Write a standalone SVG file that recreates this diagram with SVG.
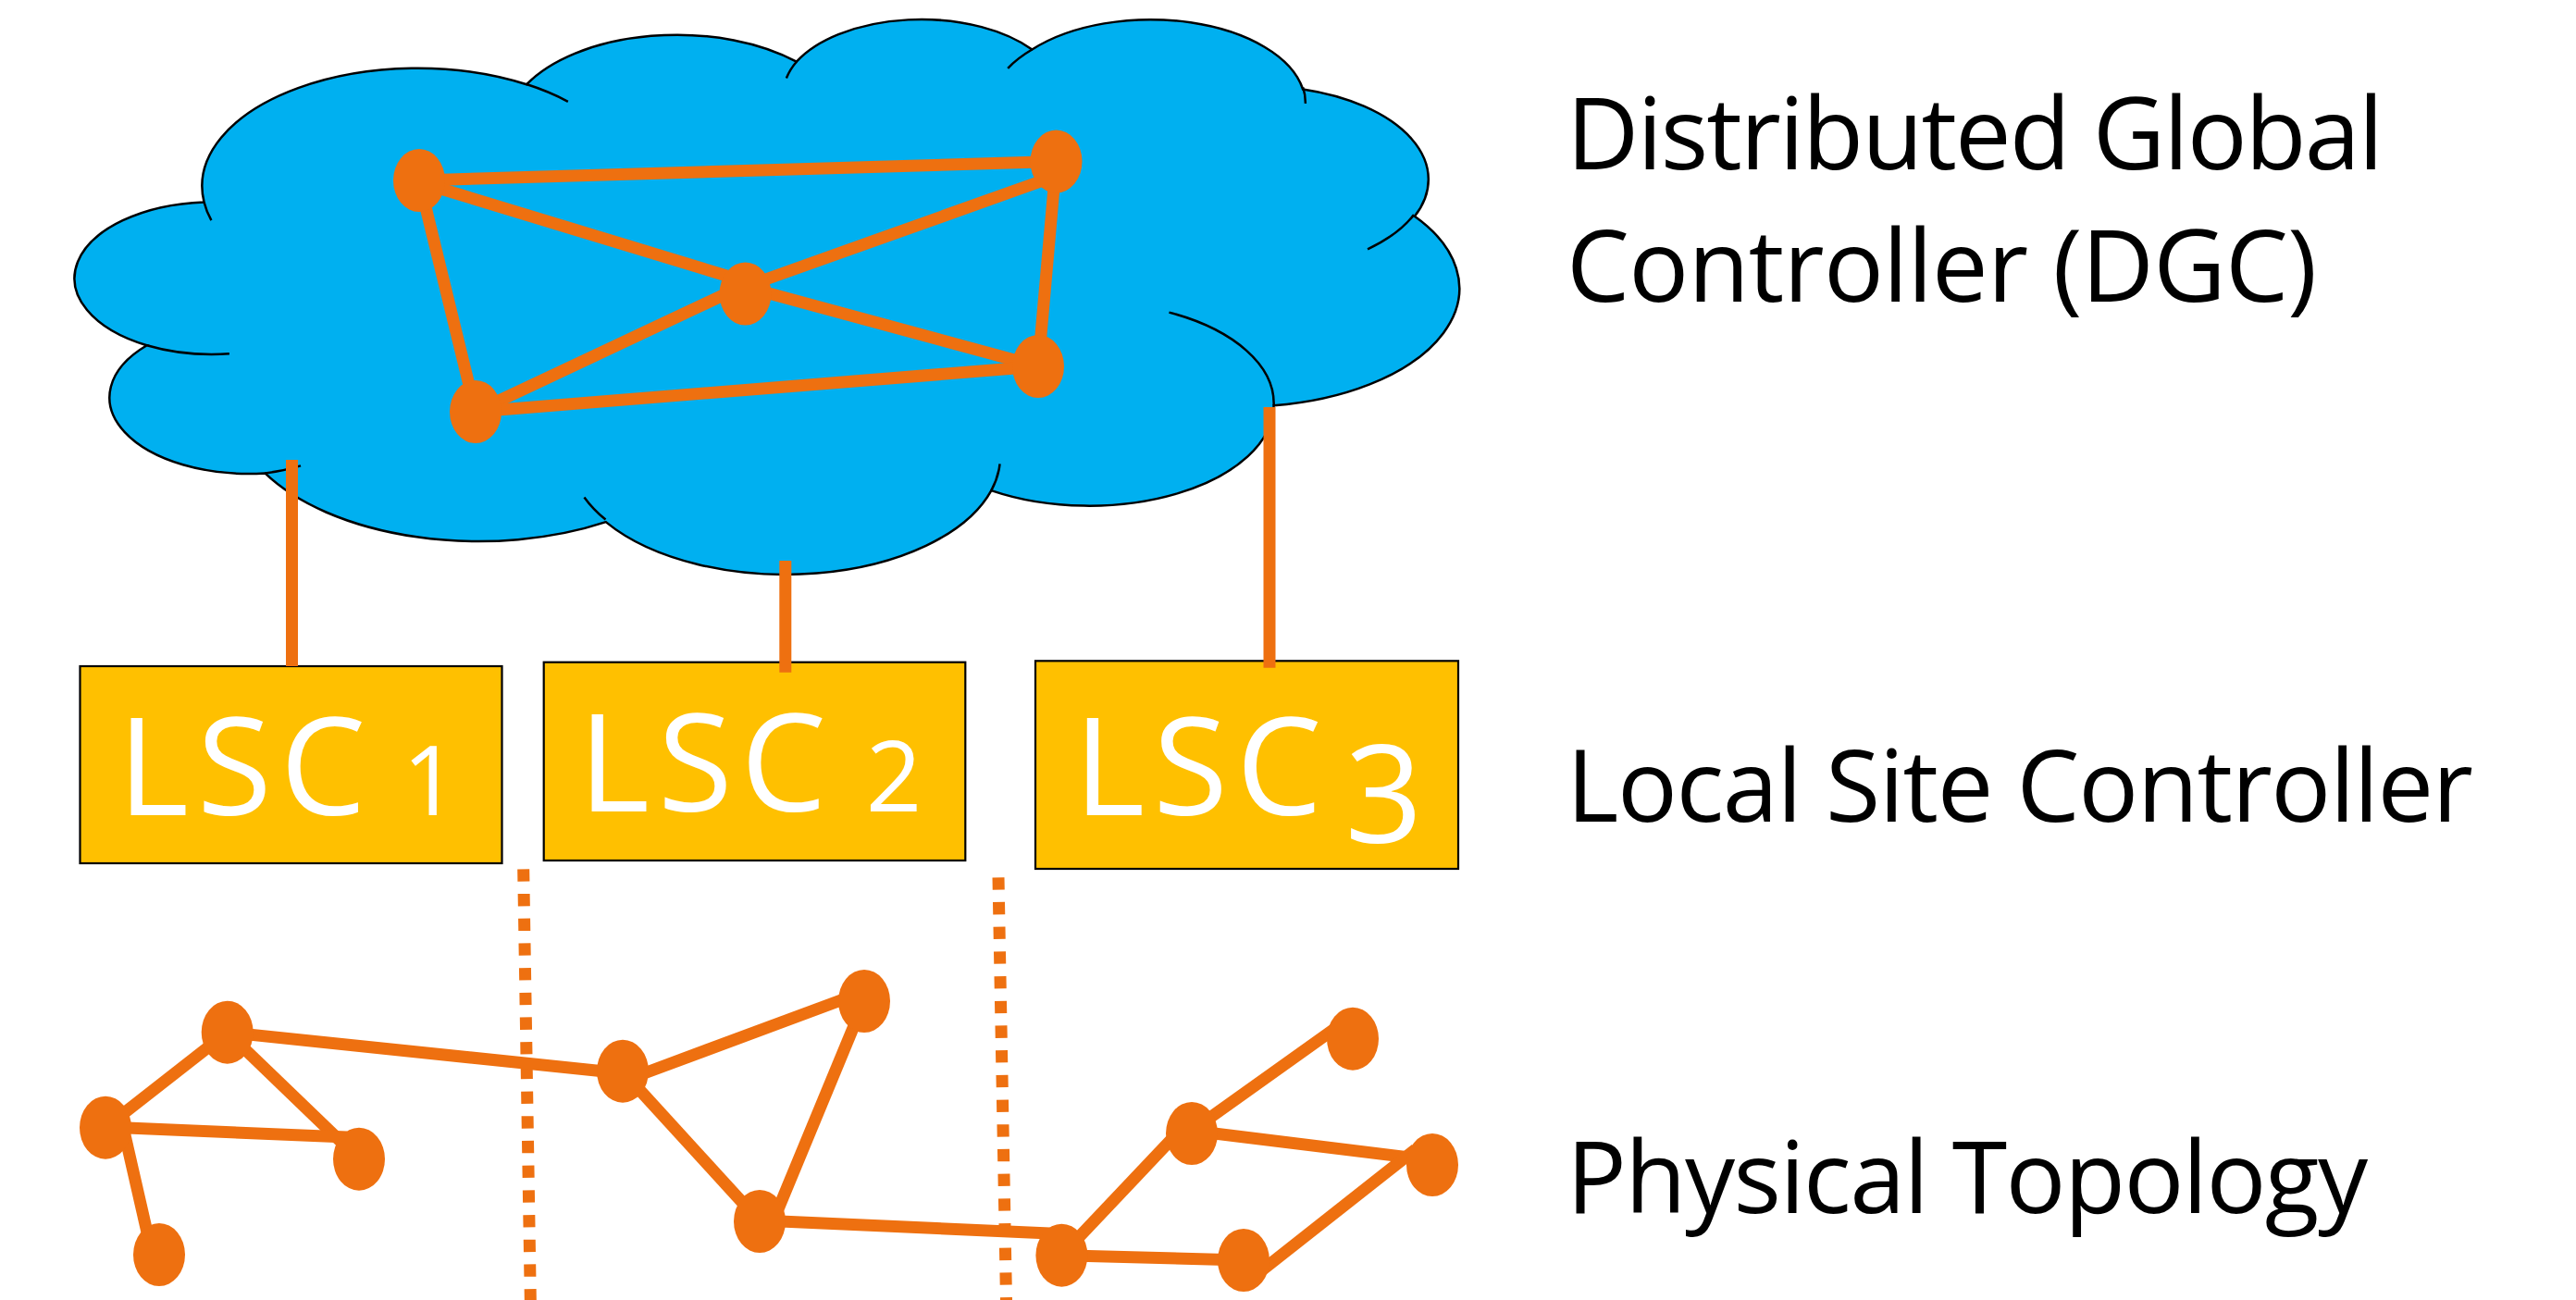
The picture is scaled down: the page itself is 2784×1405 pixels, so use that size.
<svg xmlns="http://www.w3.org/2000/svg" width="2784" height="1405" viewBox="0 0 2784 1405">
  <style>
    .cloud { fill: #00B0F0; stroke: #000; stroke-width: 2.5; }
    .fold { fill: none; stroke: #000; stroke-width: 2.5; }
    .link { stroke: #EE7010; stroke-width: 13; fill: none; }
    .split { stroke: #EE7010; stroke-width: 13; stroke-dasharray: 13.3 13.4; fill: none; }
    .node { fill: #EE7010; }
    .lsc { fill: #FFC000; stroke: #000; stroke-width: 2.2; }
    .lsc-text { fill: #fff; font-family: "Open Sans", "Noto Sans", sans-serif; }
    .label { fill: #000; font-family: "Open Sans", "Noto Sans", sans-serif; font-size: 108px; }
  </style>
  <rect width="2784" height="1405" fill="#fff"/>

  <!-- Distributed global controller: cloud outline in 43200-unit shape space -->
  <g id="dgc-cloud">
    <g transform="translate(86,19) scale(0.0345,0.01388)">
      <path class="cloud" vector-effect="non-scaling-stroke" d="M 3900 14370 A 6753 9190 0 0 1 14005 5202 A 5333 7267 0 0 1 22459 3437 A 4365 5945 0 0 1 29838 2488 A 4857 6595 0 0 1 38322 5584 A 5333 7273 0 0 1 41823 15468 A 6775 9220 0 0 1 37409 30210 A 5785 7867 0 0 1 28561 36821 A 6752 9215 0 0 1 16486 39273 A 7720 10543 0 0 1 5809 35477 A 4360 5945 0 0 1 2107 25522 A 4345 5945 0 0 1 3900 14370 Z"/>
      <path class="fold" vector-effect="non-scaling-stroke" d="M 4693 26177 A 4345 5945 0 0 1 2107 25522 M 6928 34899 A 4360 5945 0 0 1 5809 35477 M 16478 39090 A 6752 9215 0 0 1 15810 37349 M 28827 34751 A 6752 9215 0 0 1 28561 36821 M 34129 22954 A 5785 7867 0 0 1 37409 30210 M 41798 15354 A 5333 7273 0 0 1 40349 18031 M 38324 5426 A 4857 6595 0 0 1 38400 6690 M 29078 3952 A 4857 6595 0 0 1 29838 2488 M 22141 4720 A 4365 5945 0 0 1 22459 3437 M 14000 5192 A 6753 9190 0 0 1 15300 6541 M 4127 15789 A 6753 9190 0 0 1 3900 14370"/>
    </g>
  </g>

  <!-- Local site controllers -->
  <g id="lsc-1">
    <rect class="lsc" x="86.5" y="720" width="456" height="213"/>
    <text class="lsc-text" x="127.3" y="880.7" font-size="147" textLength="268" lengthAdjust="spacing">LSC</text>
    <text class="lsc-text" x="465" y="880.7" font-size="105" text-anchor="middle">1</text>
  </g>
  <g id="lsc-2">
    <rect class="lsc" x="587.7" y="715.7" width="455.6" height="214.3"/>
    <text class="lsc-text" x="625.2" y="877.3" font-size="147" textLength="268" lengthAdjust="spacing">LSC</text>
    <text class="lsc-text" x="966" y="877.3" font-size="106" text-anchor="middle">2</text>
  </g>
  <g id="lsc-3">
    <rect class="lsc" x="1119" y="714.3" width="457" height="224.7"/>
    <text class="lsc-text" x="1160.6" y="881" font-size="147" textLength="268" lengthAdjust="spacing">LSC</text>
    <text class="lsc-text" x="1495.5" y="911" font-size="147" text-anchor="middle">3</text>
  </g>

  <!-- Connectors: controller mesh, uplinks, physical links, site boundaries -->
  <g id="connectors">
    <line class="link" x1="453" y1="195" x2="1141.5" y2="174.5"/>
    <line class="link" x1="453" y1="197" x2="805" y2="304"/>
    <line class="link" x1="1141.5" y1="190" x2="805" y2="310"/>
    <line class="link" x1="453" y1="195" x2="514" y2="445"/>
    <line class="link" x1="805" y1="308" x2="514" y2="445"/>
    <line class="link" x1="805" y1="310" x2="1122" y2="396"/>
    <line class="link" x1="1141.5" y1="174.5" x2="1122" y2="396"/>
    <line class="link" x1="514" y1="445" x2="1122" y2="396"/>

    <line class="link" x1="315.5" y1="497" x2="315.5" y2="720"/>
    <line class="link" x1="848.8" y1="606" x2="848.8" y2="726.7"/>
    <line class="link" x1="1372" y1="440" x2="1372" y2="721.7"/>

    <line class="split" x1="565.7" y1="939.3" x2="573.3" y2="1405"/>
    <line class="split" x1="1079" y1="948.3" x2="1087.5" y2="1405"/>

    <line class="link" x1="245.7" y1="1115.7" x2="673" y2="1160"/>
    <line class="link" x1="245.7" y1="1115.7" x2="114" y2="1218.7"/>
    <line class="link" x1="245.7" y1="1115.7" x2="388" y2="1252.7"/>
    <line class="link" x1="114" y1="1218" x2="375" y2="1229"/>
    <line class="link" x1="133" y1="1218" x2="162" y2="1345"/>
    <line class="link" x1="680" y1="1166" x2="925" y2="1075"/>
    <line class="link" x1="673" y1="1158" x2="821" y2="1320"/>
    <line class="link" x1="934" y1="1082" x2="838" y2="1314"/>
    <line class="link" x1="821" y1="1319" x2="1135" y2="1333"/>
    <line class="link" x1="1147.4" y1="1356.7" x2="1275" y2="1222"/>
    <line class="link" x1="1288" y1="1222" x2="1445" y2="1110"/>
    <line class="link" x1="1288" y1="1222" x2="1548" y2="1254"/>
    <line class="link" x1="1530" y1="1242" x2="1360" y2="1376"/>
    <line class="link" x1="1147.4" y1="1356.7" x2="1344" y2="1362"/>
  </g>

  <!-- Controller instances inside the cloud -->
  <g id="dgc-a"><ellipse class="node" cx="453" cy="195" rx="28" ry="34"/></g>
  <g id="dgc-b"><ellipse class="node" cx="1141.5" cy="174.5" rx="28" ry="34"/></g>
  <g id="dgc-c"><ellipse class="node" cx="805.5" cy="317.5" rx="28" ry="34"/></g>
  <g id="dgc-d"><ellipse class="node" cx="1122" cy="396" rx="28" ry="34"/></g>
  <g id="dgc-e"><ellipse class="node" cx="514" cy="445" rx="28" ry="34"/></g>

  <!-- Physical switches -->
  <g id="sw-1"><ellipse class="node" cx="245.7" cy="1115.7" rx="28" ry="34"/></g>
  <g id="sw-2"><ellipse class="node" cx="114" cy="1218.7" rx="28" ry="34"/></g>
  <g id="sw-3"><ellipse class="node" cx="388" cy="1252.7" rx="28" ry="34"/></g>
  <g id="sw-4"><ellipse class="node" cx="172" cy="1356" rx="28" ry="34"/></g>
  <g id="sw-5"><ellipse class="node" cx="673" cy="1157.7" rx="28" ry="34"/></g>
  <g id="sw-6"><ellipse class="node" cx="934" cy="1082" rx="28" ry="34"/></g>
  <g id="sw-7"><ellipse class="node" cx="821" cy="1320" rx="28" ry="34"/></g>
  <g id="sw-8"><ellipse class="node" cx="1147.4" cy="1356.7" rx="28" ry="34"/></g>
  <g id="sw-9"><ellipse class="node" cx="1344" cy="1362" rx="28" ry="34"/></g>
  <g id="sw-10"><ellipse class="node" cx="1288" cy="1225" rx="28" ry="34"/></g>
  <g id="sw-11"><ellipse class="node" cx="1548" cy="1259" rx="28" ry="34"/></g>
  <g id="sw-12"><ellipse class="node" cx="1462" cy="1122.7" rx="28" ry="34"/></g>

  <!-- Layer captions -->
  <g id="captions">
    <text class="label" x="1693" y="183.3" textLength="883" lengthAdjust="spacing">Distributed Global</text>
    <text class="label" x="1693" y="325.5" textLength="811" lengthAdjust="spacing">Controller (DGC)</text>
    <text class="label" x="1693" y="888.3" textLength="980" lengthAdjust="spacing">Local Site Controller</text>
    <text class="label" x="1693" y="1310.7" textLength="866" lengthAdjust="spacing">Physical Topology</text>
  </g>
</svg>
